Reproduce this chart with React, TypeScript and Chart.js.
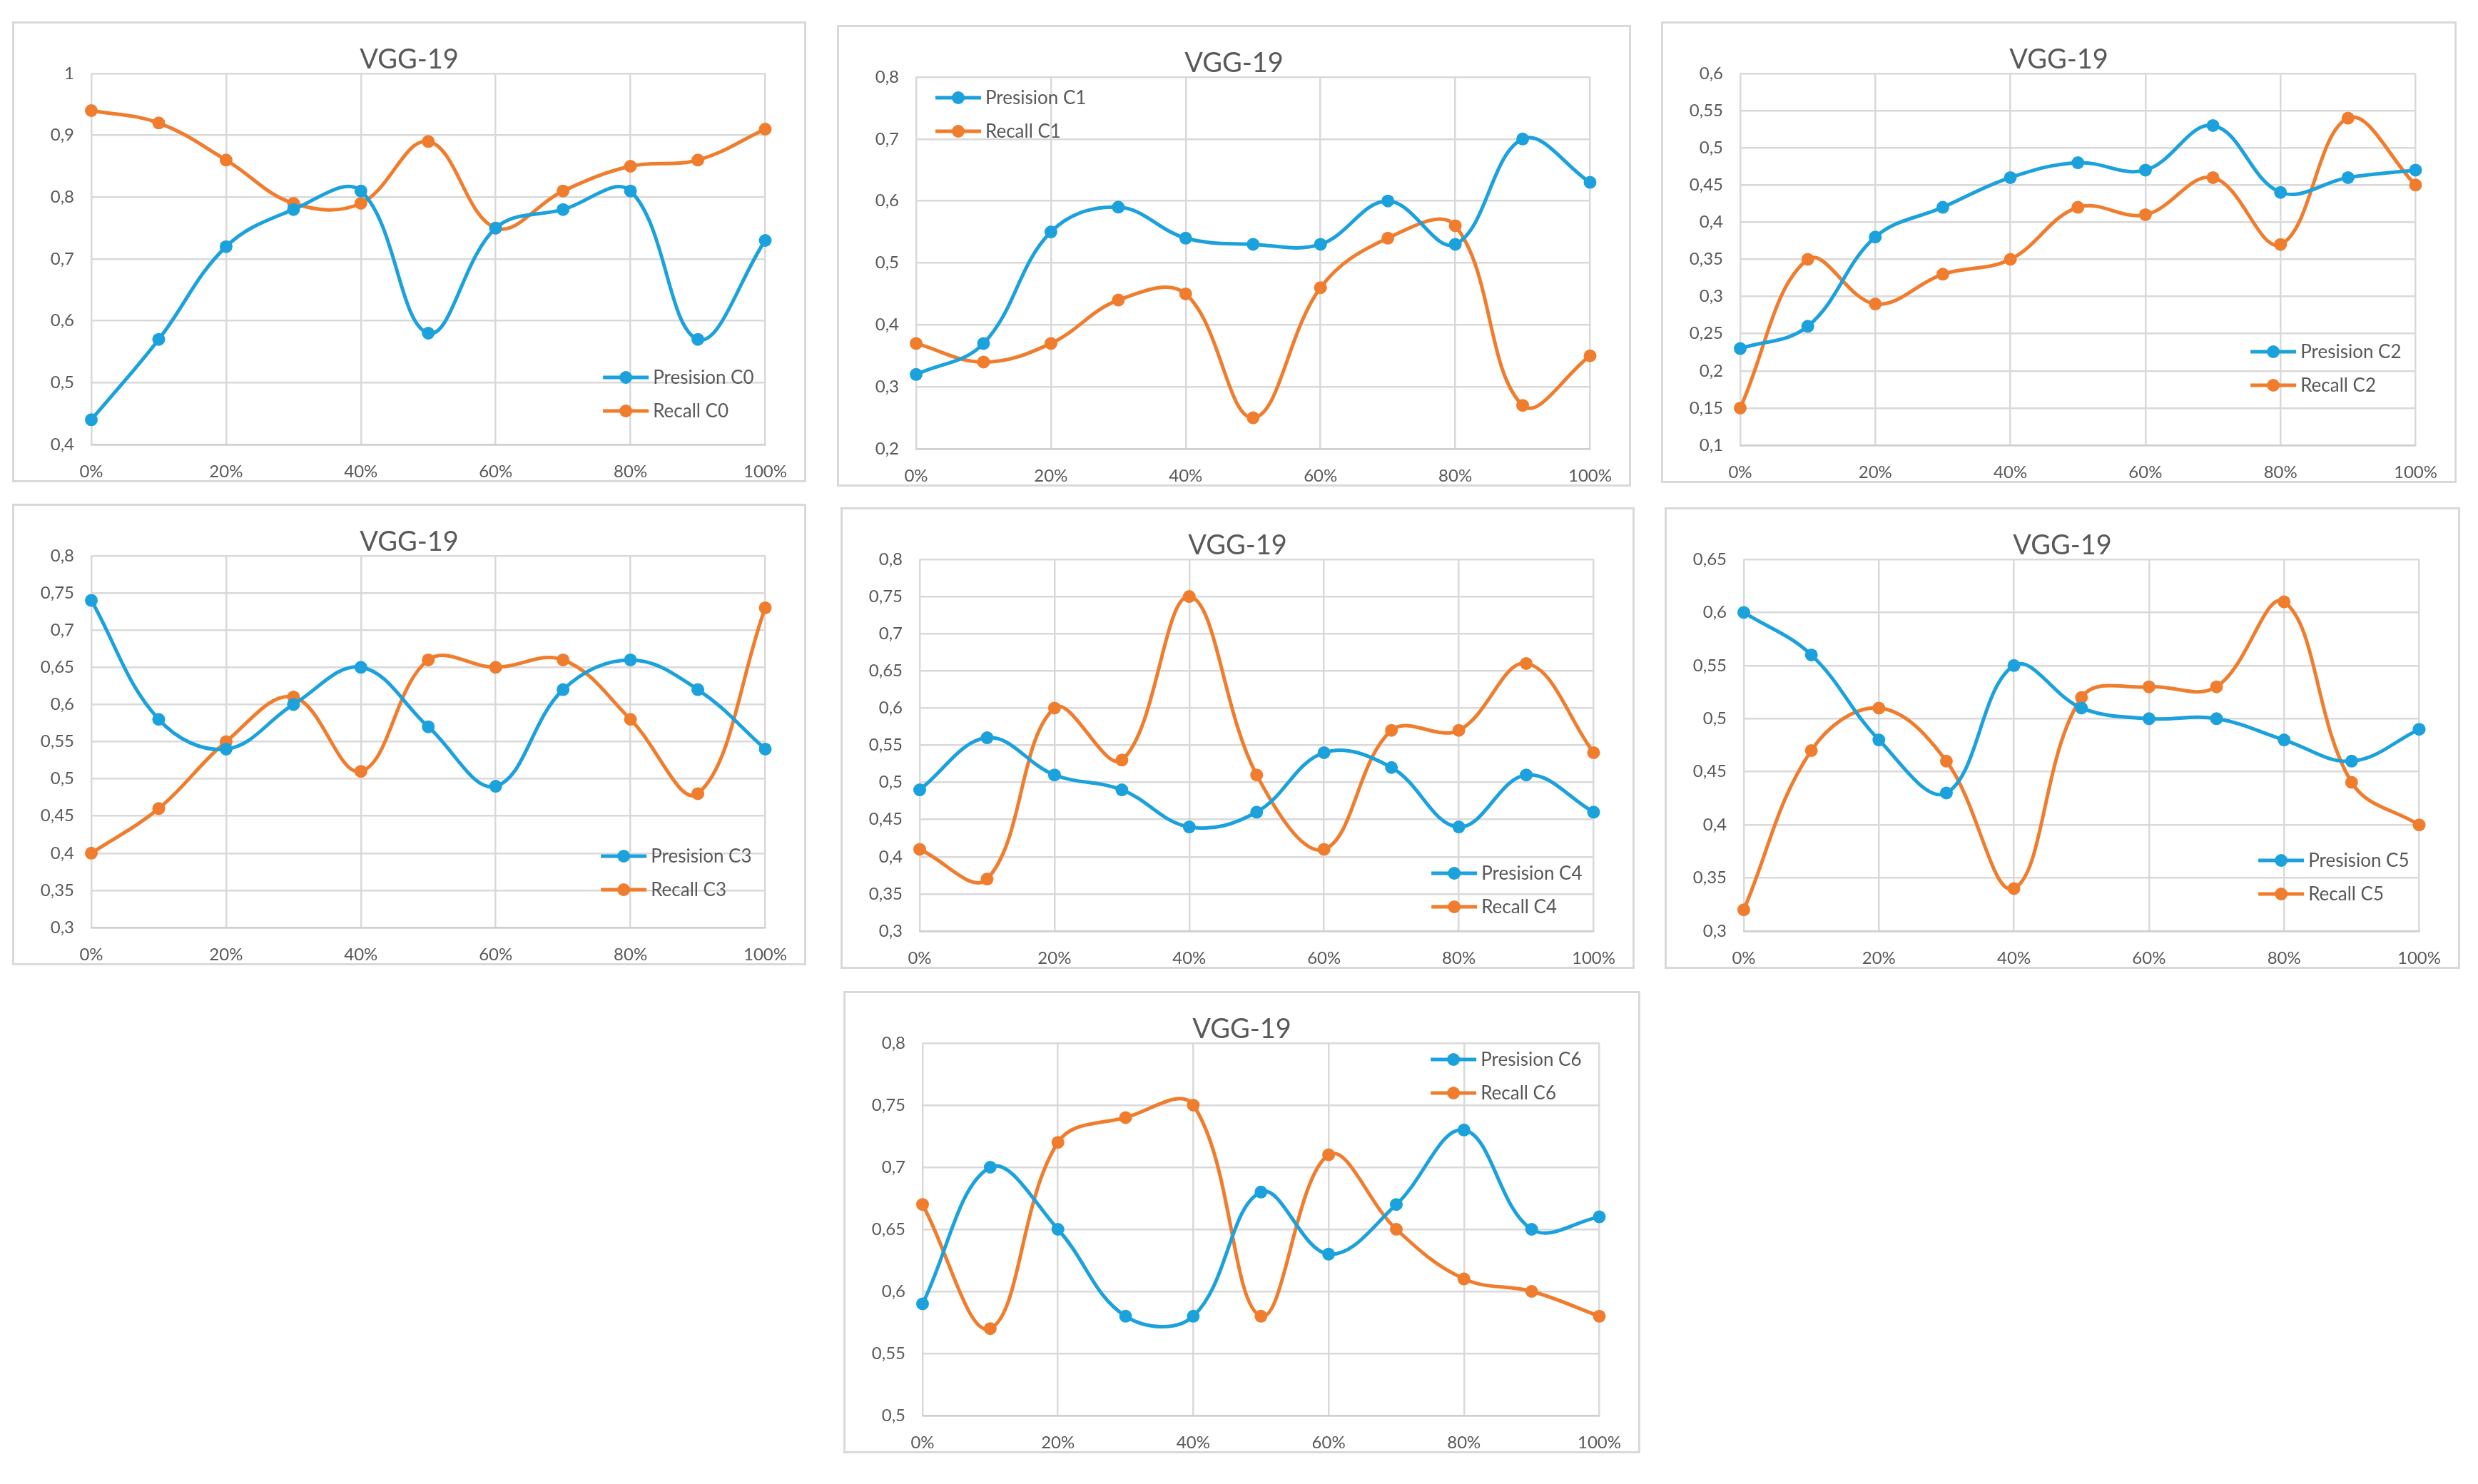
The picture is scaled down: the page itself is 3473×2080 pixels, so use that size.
import React, { useEffect, useRef } from 'react';
import { Chart, registerables } from 'chart.js';

Chart.register(...registerables);

// ---------- data ----------
const xPercent = [0, 10, 20, 30, 40, 50, 60, 70, 80, 90, 100];
const xTickStep = 20;

const precisionC0 = [0.44, 0.57, 0.72, 0.78, 0.81, 0.58, 0.75, 0.78, 0.81, 0.57, 0.73];
const recallC0 = [0.94, 0.92, 0.86, 0.79, 0.79, 0.89, 0.75, 0.81, 0.85, 0.86, 0.91];

const precisionC1 = [0.32, 0.37, 0.55, 0.59, 0.54, 0.53, 0.53, 0.6, 0.53, 0.7, 0.63];
const recallC1 = [0.37, 0.34, 0.37, 0.44, 0.45, 0.25, 0.46, 0.54, 0.56, 0.27, 0.35];

const precisionC2 = [0.23, 0.26, 0.38, 0.42, 0.46, 0.48, 0.47, 0.53, 0.44, 0.46, 0.47];
const recallC2 = [0.15, 0.35, 0.29, 0.33, 0.35, 0.42, 0.41, 0.46, 0.37, 0.54, 0.45];

const precisionC3 = [0.74, 0.58, 0.54, 0.6, 0.65, 0.57, 0.49, 0.62, 0.66, 0.62, 0.54];
const recallC3 = [0.4, 0.46, 0.55, 0.61, 0.51, 0.66, 0.65, 0.66, 0.58, 0.48, 0.73];

const precisionC4 = [0.49, 0.56, 0.51, 0.49, 0.44, 0.46, 0.54, 0.52, 0.44, 0.51, 0.46];
const recallC4 = [0.41, 0.37, 0.6, 0.53, 0.75, 0.51, 0.41, 0.57, 0.57, 0.66, 0.54];

const precisionC5 = [0.6, 0.56, 0.48, 0.43, 0.55, 0.51, 0.5, 0.5, 0.48, 0.46, 0.49];
const recallC5 = [0.32, 0.47, 0.51, 0.46, 0.34, 0.52, 0.53, 0.53, 0.61, 0.44, 0.4];

const precisionC6 = [0.59, 0.7, 0.65, 0.58, 0.58, 0.68, 0.63, 0.67, 0.73, 0.65, 0.66];
const recallC6 = [0.67, 0.57, 0.72, 0.74, 0.75, 0.58, 0.71, 0.65, 0.61, 0.6, 0.58];

const classNames = ['C0', 'C1', 'C2', 'C3', 'C4', 'C5', 'C6'];
const precisionSeries = [precisionC0, precisionC1, precisionC2, precisionC3, precisionC4, precisionC5, precisionC6];
const recallSeries = [recallC0, recallC1, recallC2, recallC3, recallC4, recallC5, recallC6];
const yMins = [0.4, 0.2, 0.1, 0.3, 0.3, 0.3, 0.5];
const yMaxs = [1, 0.8, 0.6, 0.8, 0.8, 0.65, 0.8];
const ySteps = [0.1, 0.1, 0.05, 0.05, 0.05, 0.05, 0.05];
const chartTitle = 'VGG-19';
const precisionLabel = 'Presision';
const recallLabel = 'Recall';

// ---------- layout & style ----------
const FONT = 'Lato, "Open Sans", sans-serif';
const TEXT = '#595959';
const GRID = '#d9d9d9';
const BLUE = '#1BA1DC';
const ORANGE = '#F07D2D';
const BORDER = 3;

const boxes = [
  { left: 17, top: 30, width: 1113, height: 646 },
  { left: 1173, top: 35, width: 1113, height: 647 },
  { left: 2328, top: 30, width: 1115, height: 647 },
  { left: 17, top: 706, width: 1113, height: 647 },
  { left: 1178, top: 711, width: 1113, height: 647 },
  { left: 2333, top: 711, width: 1115, height: 647 },
  { left: 1182, top: 1389, width: 1117, height: 648 },
];
const legendPlacement = [
  { corner: 'br', dx: 16, dy: 47 },
  { corner: 'tl', dx: 27, dy: 29 },
  { corner: 'br', dx: 20, dy: 84 },
  { corner: 'br', dx: 19, dy: 53 },
  { corner: 'br', dx: 16, dy: 34 },
  { corner: 'br', dx: 14, dy: 52 },
  { corner: 'tr', dx: 25, dy: 23 },
];

const insetLegend = {
  id: 'insetLegend',
  afterDraw(chart: any, _args: any, opts: any) {
    if (!opts || !opts.corner) return;
    const { ctx, chartArea } = chart;
    const ds = chart.data.datasets;
    ctx.save();
    ctx.font = `26px ${FONT}`;
    const textW = Math.max(...ds.map((d: any) => ctx.measureText(d.label).width));
    const sample = 64;
    const gap = 6;
    const rowH = 47;
    const blockW = sample + gap + textW;
    let x0 = 0;
    let y0 = 0;
    const n = ds.length;
    if (opts.corner === 'br') {
      x0 = chartArea.right - opts.dx - blockW;
      y0 = chartArea.bottom - opts.dy - rowH * (n - 1);
    } else if (opts.corner === 'tl') {
      x0 = chartArea.left + opts.dx;
      y0 = chartArea.top + opts.dy;
    } else {
      x0 = chartArea.right - opts.dx - blockW;
      y0 = chartArea.top + opts.dy;
    }
    ds.forEach((d: any, i: number) => {
      const y = y0 + i * rowH;
      ctx.strokeStyle = d.borderColor;
      ctx.lineWidth = 5;
      ctx.beginPath();
      ctx.moveTo(x0, y);
      ctx.lineTo(x0 + sample, y);
      ctx.stroke();
      ctx.fillStyle = d.borderColor;
      ctx.beginPath();
      ctx.arc(x0 + sample / 2, y, 9, 0, Math.PI * 2);
      ctx.fill();
      ctx.fillStyle = TEXT;
      ctx.textBaseline = 'middle';
      ctx.textAlign = 'left';
      ctx.fillText(d.label, x0 + sample + gap, y + 1);
    });
    ctx.restore();
  },
};

const fmtY = (v: any) => String(+Number(v).toFixed(2)).replace('.', ',');

function Panel({ idx }: { idx: number }) {
  const ref = useRef<HTMLCanvasElement | null>(null);
  const box = boxes[idx];
  const w = box.width - 2 * BORDER;
  const h = box.height - 2 * BORDER;

  useEffect(() => {
    if (!ref.current) return;
    const mk = (vals: number[]) => vals.map((v, i) => ({ x: xPercent[i], y: v }));
    const common = {
      borderWidth: 5,
      pointRadius: 9,
      pointBorderWidth: 0,
      tension: 0.38,
      clip: false as any,
    };
    const chart = new Chart(ref.current, {
      type: 'line',
      data: {
        datasets: [
          {
            ...common,
            label: `${precisionLabel} ${classNames[idx]}`,
            data: mk(precisionSeries[idx]),
            borderColor: BLUE,
            backgroundColor: BLUE,
            pointBackgroundColor: BLUE,
          },
          {
            ...common,
            label: `${recallLabel} ${classNames[idx]}`,
            data: mk(recallSeries[idx]),
            borderColor: ORANGE,
            backgroundColor: ORANGE,
            pointBackgroundColor: ORANGE,
          },
        ],
      },
      options: {
        animation: false,
        responsive: false,
        maintainAspectRatio: false,
        devicePixelRatio: 1,
        layout: { padding: 0 },
        plugins: {
          legend: { display: false },
          tooltip: { enabled: false },
          title: {
            display: true,
            text: chartTitle,
            color: TEXT,
            font: { family: FONT, size: 38, weight: 'normal', lineHeight: 1 },
            padding: { top: 32, bottom: 0 },
          },
          insetLegend: legendPlacement[idx],
        } as any,
        scales: {
          x: {
            type: 'linear',
            min: xPercent[0],
            max: xPercent[xPercent.length - 1],
            ticks: {
              stepSize: xTickStep,
              color: TEXT,
              font: { family: FONT, size: 24 },
              padding: 24,
              maxRotation: 0,
              callback: (v: any) => `${v}%`,
            },
            grid: { color: GRID, lineWidth: 2.5, drawTicks: false },
            border: { display: true, color: '#cfcfcf', width: 2.5 },
            afterFit: (s: any) => {
              s.height = 50;
            },
          },
          y: {
            type: 'linear',
            position: 'left',
            min: yMins[idx],
            max: yMaxs[idx],
            ticks: {
              stepSize: ySteps[idx],
              color: TEXT,
              font: { family: FONT, size: 24 },
              padding: 24,
              callback: fmtY,
            },
            grid: { color: GRID, lineWidth: 2.5, drawTicks: false },
            border: { display: false },
            afterFit: (s: any) => {
              s.width = 108;
            },
          },
          yRight: {
            type: 'linear',
            position: 'right',
            min: yMins[idx],
            max: yMaxs[idx],
            display: true,
            ticks: { display: false },
            grid: { display: false, drawTicks: false },
            border: { display: false },
            afterFit: (s: any) => {
              s.width = 49;
            },
          },
        },
      } as any,
      plugins: [insetLegend as any],
    });
    return () => chart.destroy();
  }, [idx]);

  return (
    <div
      style={{
        position: 'absolute',
        left: box.left,
        top: box.top,
        width: box.width,
        height: box.height,
        boxSizing: 'border-box',
        border: `${BORDER}px solid #d9d9d9`,
        background: '#ffffff',
      }}
    >
      <canvas ref={ref} width={w} height={h} style={{ display: 'block', width: w, height: h }} />
    </div>
  );
}

export default function App() {
  return (
    <div style={{ position: 'absolute', left: 0, top: 0, width: 3473, height: 2080, background: '#ffffff' }}>
      {classNames.map((_, i) => (
        <Panel key={i} idx={i} />
      ))}
    </div>
  );
}
